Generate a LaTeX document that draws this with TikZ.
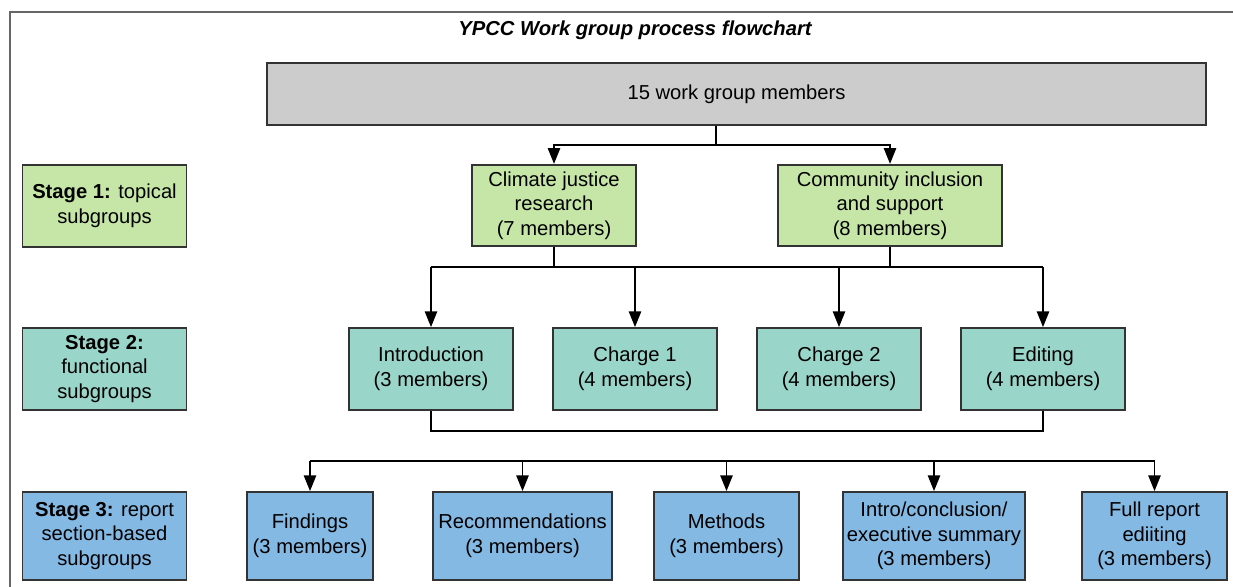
\documentclass[tikz,border=0pt]{standalone}
\usepackage{fontspec}
\setmainfont{Liberation Sans}
\usetikzlibrary{arrows.meta}

\definecolor{boxline}{HTML}{333333}
\definecolor{framegray}{HTML}{666666}
\definecolor{topgray}{HTML}{CCCCCC}
\definecolor{stageone}{HTML}{C6E6A8}
\definecolor{stagetwo}{HTML}{9AD5CA}
\definecolor{stagethree}{HTML}{84B9E3}

\tikzset{
  box/.style={draw=boxline, line width=1pt, align=center, inner sep=2pt,
    font=\fontsize{11.5}{14}\selectfont},
  greenbox/.style={box, fill=stageone, minimum height=1.63cm},
  tealbox/.style={box, fill=stagetwo, minimum width=3.28cm, minimum height=1.64cm},
  bluebox/.style={box, fill=stagethree, minimum height=1.76cm},
  link/.style={draw=black, line width=1pt},
  arr/.style={link, -{Triangle[length=9pt,width=7pt]}}
}

\begin{document}
\begin{tikzpicture}[x=0.02cm, y=-0.02cm]

    % page size of the reference
    \useasboundingbox (0,0) rectangle (1233,586);

    % outer frame (runs off the page to the right and bottom)
    \draw[framegray, line width=1.2pt] (1240,12) -- (10,12) -- (10,600);

    % Title
    \node (title) at (635,30) {\fontsize{11.5}{14}\selectfont\bfseries\itshape YPCC Work group process flowchart};

    % All members
    \node[box, fill=topgray, minimum width=18.78cm, minimum height=1.24cm] (all) at (736.5,94) {15 work group members};

    % Stage labels on the left
    \node[box, fill=stageone, minimum width=3.28cm, minimum height=1.64cm] (stage1) at (104.5,206) {\textbf{Stage 1:} topical\\subgroups};
    \node[box, fill=stagetwo, minimum width=3.28cm, minimum height=1.64cm] (stage2) at (104.5,369) {\textbf{Stage 2:}\\functional\\subgroups};
    \node[box, fill=stagethree, minimum width=3.28cm, minimum height=1.76cm] (stage3) at (104.5,536) {\textbf{Stage 3:} report\\section-based\\subgroups};

    % Stage 1: topical subgroups
    \node[greenbox, minimum width=3.28cm] (climate) at (554,205.5) {Climate justice\\research\\(7 members)};
    \node[greenbox, minimum width=4.48cm] (community) at (890,205.5) {Community inclusion\\and support\\(8 members)};

    % Stage 2: functional subgroups
    \node[tealbox] (intro) at (431,369) {Introduction\\(3 members)};
    \node[tealbox] (charge1) at (635,369) {Charge 1\\(4 members)};
    \node[tealbox] (charge2) at (839,369) {Charge 2\\(4 members)};
    \node[tealbox] (editing) at (1043,369) {Editing\\(4 members)};

    % Stage 3: report section-based subgroups
    \node[bluebox, minimum width=2.52cm] (findings) at (310,536) {Findings\\(3 members)};
    \node[bluebox, minimum width=3.58cm] (recs) at (522.5,536) {Recommendations\\(3 members)};
    \node[bluebox, minimum width=2.90cm] (methods) at (726.5,536) {Methods\\(3 members)};
    \node[bluebox, minimum width=3.64cm] (summary) at (934,536) {Intro/conclusion/\\executive summary\\(3 members)};
    \node[bluebox, minimum width=2.90cm] (fullrep) at (1154.5,536) {Full report\\ediiting\\(3 members)};

    % Branch points
    \coordinate (split1) at (716,145);
    \coordinate (split2a) at (431,267);
    \coordinate (split2b) at (1043,267);
    \coordinate (merge2) at (431,431);
    \coordinate (split3a) at (310,461);
    \coordinate (split3b) at (1154.5,461);

    % members -> stage 1
    \draw[link] (all.south -| split1) -- (split1);
    \draw[arr] (split1) -| (climate);
    \draw[arr] (split1) -| (community);

    % stage 1 -> stage 2
    \draw[link] (climate) -- (climate |- split2a);
    \draw[link] (community) -- (community |- split2a);
    \draw[link] (split2a) -- (split2b);
    \draw[arr] (split2a) -- (intro);
    \draw[arr] (charge1 |- split2a) -- (charge1);
    \draw[arr] (charge2 |- split2a) -- (charge2);
    \draw[arr] (split2b) -- (editing);

    % stage 2 joins
    \draw[link] (intro) -- (merge2) -| (editing);

    % stage 3 branches
    \draw[link] (split3a) -- (split3b);
    \draw[arr] (split3a) -- (findings);
    \draw[arr] (recs |- split3a) -- (recs);
    \draw[arr] (methods |- split3a) -- (methods);
    \draw[arr] (summary |- split3a) -- (summary);
    \draw[arr] (split3b) -- (fullrep);

\end{tikzpicture}
\end{document}
